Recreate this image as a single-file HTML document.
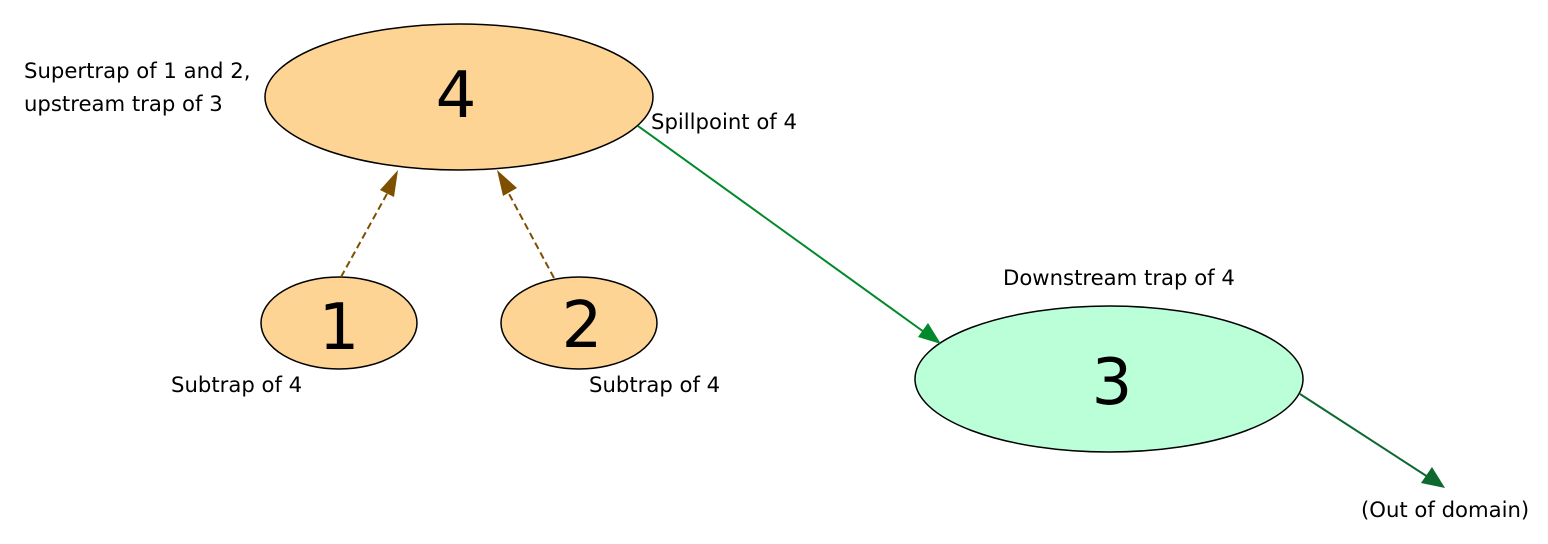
<!DOCTYPE html>
<html><head><style>body{margin:0;background:#fff}svg{display:block}text{font-family:"DejaVu Sans","Liberation Sans",sans-serif}</style></head>
<body>
<svg width="1548" height="544" viewBox="0 0 1548 544" xmlns="http://www.w3.org/2000/svg">
<ellipse cx="459" cy="97" rx="194" ry="73" fill="#fdd494" stroke="#000" stroke-width="1.5"/>
<ellipse cx="339" cy="323" rx="78" ry="46" fill="#fdd494" stroke="#000" stroke-width="1.5"/>
<ellipse cx="579" cy="323" rx="78" ry="46" fill="#fdd494" stroke="#000" stroke-width="1.5"/>
<ellipse cx="1109" cy="379" rx="194" ry="73" fill="#baffd8" stroke="#000" stroke-width="1.5"/>
<text x="456" y="117" font-size="64" text-anchor="middle">4</text>
<text x="339" y="349" font-size="64" text-anchor="middle">1</text>
<text x="582" y="347" font-size="64" text-anchor="middle">2</text>
<text x="1112" y="404" font-size="64" text-anchor="middle">3</text>
<line x1="341" y1="277" x2="388" y2="192" stroke="#7f4f00" stroke-width="2" stroke-dasharray="7,4"/>
<polygon points="398,170 380,190 394,197" fill="#7f4f00"/>
<line x1="554" y1="278" x2="508" y2="192" stroke="#7f4f00" stroke-width="2" stroke-dasharray="7,4"/>
<polygon points="497,170 503,196 517,188" fill="#7f4f00"/>
<line x1="638" y1="126" x2="924" y2="332" stroke="#008a2b" stroke-width="2"/>
<polygon points="941,344 918,337 928,323" fill="#008a2b"/>
<line x1="1300" y1="394" x2="1428" y2="477" stroke="#0c6a2e" stroke-width="2"/>
<polygon points="1445,488 1421,483 1432,467" fill="#0c6a2e"/>
<g font-size="21.2" fill="#000">
<text x="24" y="78">Supertrap of 1 and 2,</text>
<text x="24" y="111">upstream trap of 3</text>
<text x="651" y="129">Spillpoint of 4</text>
<text x="1003" y="285">Downstream trap of 4</text>
<text x="171" y="392">Subtrap of 4</text>
<text x="589" y="392">Subtrap of 4</text>
<text x="1361" y="517">(Out of domain)</text>
</g>
</svg>
</body></html>
